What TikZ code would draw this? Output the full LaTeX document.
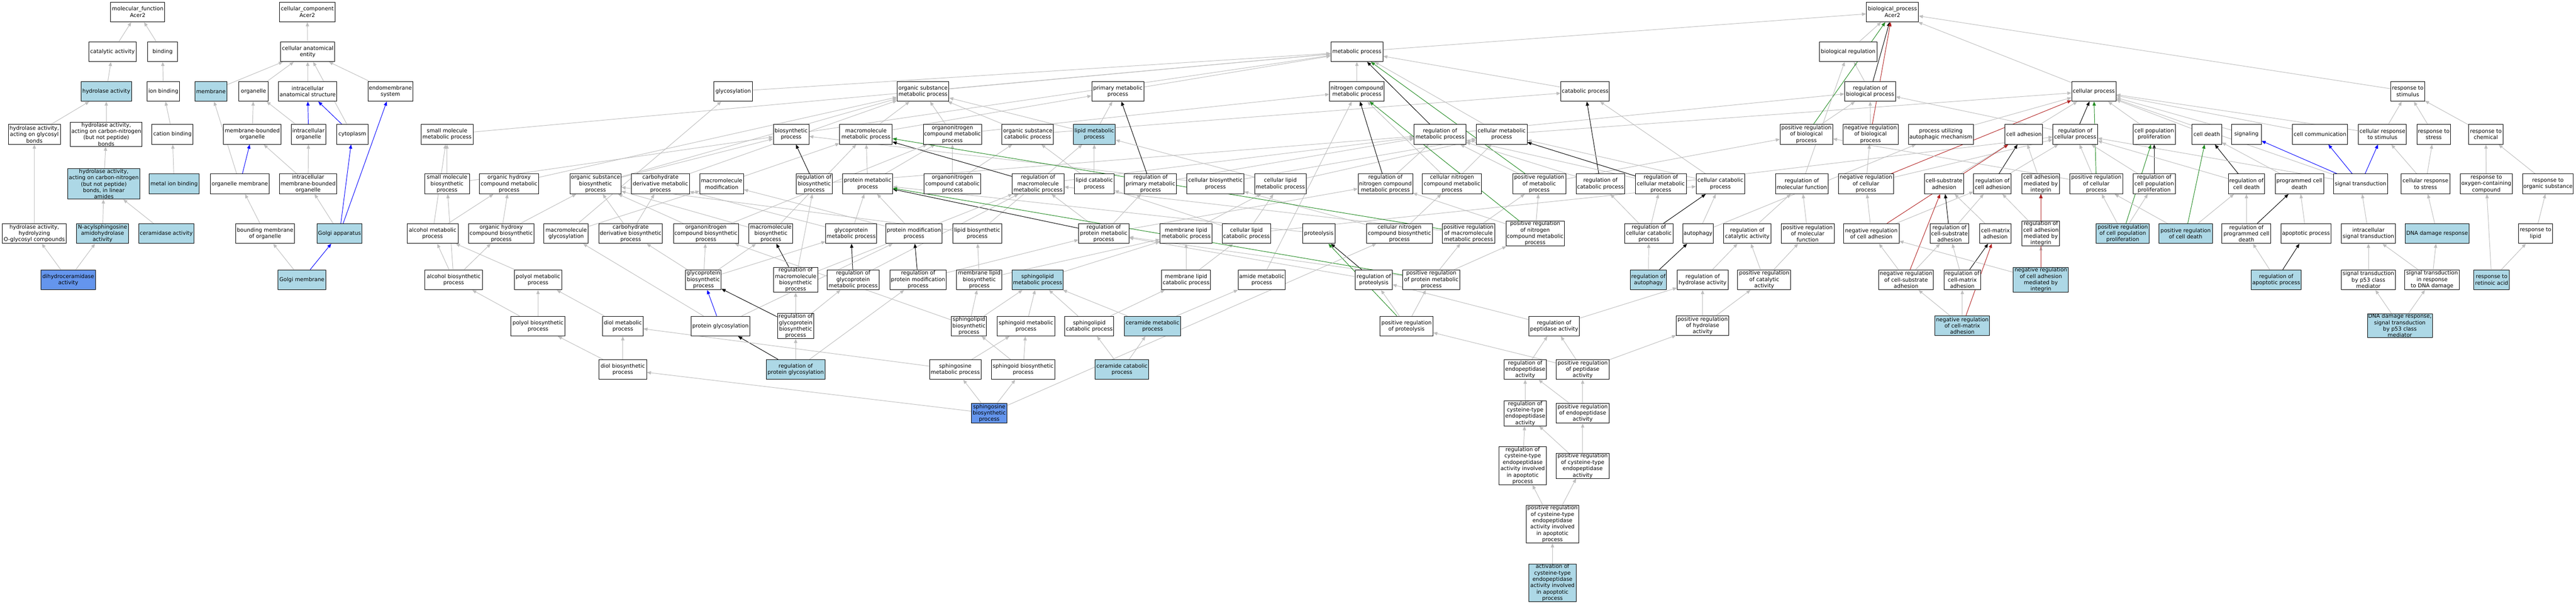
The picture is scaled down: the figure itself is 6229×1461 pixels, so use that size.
\documentclass[tikz,border=0pt]{standalone}
\usepackage{fontspec}
\setmainfont{DejaVu Sans}
\usetikzlibrary{arrows.meta}
\definecolor{edgegray}{HTML}{BEBEBE}
\definecolor{lbfill}{HTML}{ADD8E6}
\definecolor{cbfill}{HTML}{6495ED}
\definecolor{fgreen}{HTML}{228B22}
\definecolor{fbrick}{HTML}{B22222}
\pgfdeclarelayer{paper}
\pgfdeclarelayer{bg}
\pgfsetlayers{paper,bg,main}
\tikzset{
  gnode/.style={draw=black, line width=1.2pt, fill=white, inner xsep=2pt, inner ysep=1pt,
    minimum height=48pt, align=center, font=\fontsize{13}{15.4}\selectfont},
  lb/.style={fill=lbfill},
  cb/.style={fill=cbfill},
  ebase/.style={line width=1.2pt, -{Triangle[length=10pt,width=8pt]}},
  ei/.style={ebase, draw=edgegray},
  ep/.style={ebase, draw=blue},
  er/.style={ebase, draw=black},
  eg/.style={ebase, draw=fgreen},
  en/.style={ebase, draw=fbrick}
}
\newcommand{\gonode}[6][]{\node[gnode,minimum width=#5pt,#1] (#2) at (#3,#4) {#6};}
\newcommand{\gedge}[3][ei]{\draw[#1] (#2) -- (#3);}
\begin{document}
\begin{tikzpicture}[x=1pt,y=-1pt]
\begin{pgfonlayer}{paper}
\fill[white] (0,0) rectangle (6229,1461);
\end{pgfonlayer}
\useasboundingbox (0,0) rectangle (6229,1461);
% ---------------- molecular function ----------------
\gonode{mf}{333}{29}{131}{molecular\_function\\Acer2}
\gonode{cat}{272}{125}{115}{catalytic activity}
\gonode{bind}{393}{125}{72}{binding}
\gonode[lb]{hyd}{257}{221}{122}{hydrolase activity}
\gonode{ionb}{395}{221}{79}{ion binding}
\gonode{hydgly}{83}{325}{126}{hydrolase activity,\\acting on glycosyl\\bonds}
\gonode{hydcn}{257}{325}{173}{hydrolase activity,\\acting on carbon-nitrogen\\(but not peptide)\\bonds}
\gonode{catb}{417}{325}{100}{cation binding}
\gonode[lb]{hydla}{251}{445}{174}{hydrolase activity,\\acting on carbon-nitrogen\\(but not peptide)\\bonds, in linear\\amides}
\gonode[lb]{metb}{421}{445}{120}{metal ion binding}
\gonode{hydog}{83}{565}{155}{hydrolase activity,\\hydrolyzing\\O-glycosyl compounds}
\gonode[lb]{nacyl}{248}{565}{125}{N-acylsphingosine\\amidohydrolase\\activity}
\gonode[lb]{cerase}{402}{565}{133}{ceramidase activity}
\gonode[cb]{dihy}{165}{677}{131}{dihydroceramidase\\activity}
% ---------------- cellular component ----------------
\gonode{cc}{743}{29}{134}{cellular\_component\\Acer2}
\gonode{cae}{744}{125}{131}{cellular anatomical\\entity}
\gonode[lb]{memb}{510}{221}{77}{membrane}
\gonode{org}{613}{221}{72}{organelle}
\gonode{ias}{744}{221}{141}{intracellular\\anatomical structure}
\gonode{endo}{944}{221}{109}{endomembrane\\system}
\gonode{mbo}{610}{325}{139}{membrane-bounded\\organelle}
\gonode{io}{746}{325}{83}{intracellular\\organelle}
\gonode{cyto}{852}{325}{75}{cytoplasm}
\gonode{orgm}{580}{445}{142}{organelle membrane}
\gonode{imbo}{745}{445}{138}{intracellular\\membrane-bounded\\organelle}
\gonode{bmo}{641}{565}{142}{bounding membrane\\of organelle}
\gonode[lb]{golgi}{821}{565}{108}{Golgi apparatus}
\gonode[lb]{golgim}{730}{677}{115}{Golgi membrane}
% ---------------- biological process ----------------
\gonode{bp}{4576}{29}{126}{biological\_process\\Acer2}
\gonode{mp}{3281}{125}{126}{metabolic process}
\gonode{breg}{4469}{125}{140}{biological regulation}
% row 221
\gonode{glyc}{1773}{221}{94}{glycosylation}
\gonode{osmp}{2232}{221}{125}{organic substance\\metabolic process}
\gonode{pmp}{2703}{221}{126}{primary metabolic\\process}
\gonode{ncmp}{3281}{221}{132}{nitrogen compound\\metabolic process}
\gonode{catp}{3833}{221}{117}{catabolic process}
\gonode{rbp}{4522}{221}{123}{regulation of\\biological process}
\gonode{cellp}{5063}{221}{107}{cellular process}
\gonode{rstim}{5822}{221}{82}{response to\\stimulus}
% row 325
\gonode{smmp}{1081}{325}{126}{small molecule\\metabolic process}
\gonode{biosyn}{1913}{325}{86}{biosynthetic\\process}
\gonode{mmp}{2094}{325}{127}{macromolecule\\metabolic process}
\gonode{oncmp}{2303}{325}{141}{organonitrogen\\compound metabolic\\process}
\gonode{oscat}{2485}{325}{124}{organic substance\\catabolic process}
\gonode[lb]{lmp}{2646}{325}{102}{lipid metabolic\\process}
\gonode{rmp}{3482}{325}{125}{regulation of\\metabolic process}
\gonode{cmp}{3631}{325}{123}{cellular metabolic\\process}
\gonode{prbp}{4368}{325}{127}{positive regulation\\of biological\\process}
\gonode{nrbp}{4523}{325}{133}{negative regulation\\of biological\\process}
\gonode{puam}{4693}{325}{157}{process utilizing\\autophagic mechanism}
\gonode{cadh}{4894}{325}{91}{cell adhesion}
\gonode{rcp}{5018}{325}{108}{regulation of\\cellular process}
\gonode{cpp}{5209}{325}{102}{cell population\\proliferation}
\gonode{cdeath}{5336}{325}{72}{cell death}
\gonode{signaling}{5432}{325}{72}{signaling}
\gonode{ccomm}{5610}{325}{133}{cell communication}
\gonode{crstim}{5761}{325}{116}{cellular response\\to stimulus}
\gonode{rstress}{5885}{325}{82}{response to\\stress}
\gonode{rchem}{6011}{325}{83}{response to\\chemical}
% row 445
\gonode{smbp}{1081}{445}{108}{small molecule\\biosynthetic\\process}
\gonode{ohcmp}{1231}{445}{143}{organic hydroxy\\compound metabolic\\process}
\gonode{osbp}{1440}{445}{124}{organic substance\\biosynthetic\\process}
\gonode{cdmp}{1597}{445}{140}{carbohydrate\\derivative metabolic\\process}
\gonode{mmod}{1745}{445}{106}{macromolecule\\modification}
\gonode{rbiosyn}{1969}{445}{88}{regulation of\\biosynthetic\\process}
\gonode{protmp}{2098}{445}{121}{protein metabolic\\process}
\gonode{onccat}{2303}{445}{137}{organonitrogen\\compound catabolic\\process}
\gonode{rmmp}{2510}{445}{126}{regulation of\\macromolecule\\metabolic process}
\gonode{lcat}{2646}{445}{97}{lipid catabolic\\process}
\gonode{rpmp}{2782}{445}{126}{regulation of\\primary metabolic\\process}
\gonode{cbp}{2939}{445}{138}{cellular biosynthetic\\process}
\gonode{clmp}{3096}{445}{125}{cellular lipid\\metabolic process}
\gonode{rncmp}{3350}{445}{132}{regulation of\\nitrogen compound\\metabolic process}
\gonode{cncmp}{3511}{445}{143}{cellular nitrogen\\compound metabolic\\process}
\gonode{prmp}{3722}{445}{128}{positive regulation\\of metabolic\\process}
\gonode{rcat}{3870}{445}{117}{regulation of\\catabolic process}
\gonode{rcmp}{4016}{445}{123}{regulation of\\cellular metabolic\\process}
\gonode{ccat}{4160}{445}{117}{cellular catabolic\\process}
\gonode{rmf}{4357}{445}{128}{regulation of\\molecular function}
\gonode{nrcp}{4512}{445}{133}{negative regulation\\of cellular\\process}
\gonode{csadh}{4701}{445}{94}{cell-substrate\\adhesion}
\gonode{rcadh}{4818}{445}{91}{regulation of\\cell adhesion}
\gonode{cami}{4935}{445}{91}{cell adhesion\\mediated by\\integrin}
\gonode{prcp}{5069}{445}{128}{positive regulation\\of cellular\\process}
\gonode{rcpp}{5209}{445}{102}{regulation of\\cell population\\proliferation}
\gonode{rcd}{5432}{445}{88}{regulation of\\cell death}
\gonode{pcd}{5560}{445}{117}{programmed cell\\death}
\gonode{sigt}{5708}{445}{130}{signal transduction}
\gonode{crstress}{5865}{445}{118}{cellular response\\to stress}
\gonode{roxy}{6012}{445}{126}{response to\\oxygen-containing\\compound}
\gonode{rorg}{6161}{445}{122}{response to\\organic substance}
% row 565
\gonode{amp}{1046}{565}{123}{alcohol metabolic\\process}
\gonode{ohcbp}{1212}{565}{158}{organic hydroxy\\compound biosynthetic\\process}
\gonode{mglyc}{1369}{565}{107}{macromolecule\\glycosylation}
\gonode{cdbp}{1525}{565}{154}{carbohydrate\\derivative biosynthetic\\process}
\gonode{oncbp}{1707}{565}{157}{organonitrogen\\compound biosynthetic\\process}
\gonode{mbp}{1864}{565}{106}{macromolecule\\biosynthetic\\process}
\gonode{gpmp}{2058}{565}{117}{glycoprotein\\metabolic process}
\gonode{pmod}{2210}{565}{137}{protein modification\\process}
\gonode{lbp}{2363}{565}{118}{lipid biosynthetic\\process}
\gonode{rprotmp}{2669}{565}{121}{regulation of\\protein metabolic\\process}
\gonode{mlmp}{2868}{565}{126}{membrane lipid\\metabolic process}
\gonode{clcat}{3014}{565}{118}{cellular lipid\\catabolic process}
\gonode{proteol}{3189}{565}{78}{proteolysis}
\gonode{cncbp}{3384}{565}{159}{cellular nitrogen\\compound biosynthetic\\process}
\gonode{prmmp}{3551}{565}{127}{positive regulation\\of macromolecule\\metabolic process}
\gonode{prncmp}{3712}{565}{141}{positive regulation\\of nitrogen\\compound metabolic\\process}
\gonode{rccat}{3987}{565}{117}{regulation of\\cellular catabolic\\process}
\gonode{autoph}{4106}{565}{74}{autophagy}
\gonode{rcatact}{4225}{565}{115}{regulation of\\catalytic activity}
\gonode{prmf}{4371}{565}{128}{positive regulation\\of molecular\\function}
\gonode{nrcadh}{4525}{565}{134}{negative regulation\\of cell adhesion}
\gonode{rcsadh}{4714}{565}{94}{regulation of\\cell-substrate\\adhesion}
\gonode{cmadh}{4825}{565}{77}{cell-matrix\\adhesion}
\gonode{rcami}{4935}{565}{91}{regulation of\\cell adhesion\\mediated by\\integrin}
\gonode[lb]{prcpp}{5133}{565}{128}{positive regulation\\of cell population\\proliferation}
\gonode[lb]{prcd}{5285}{565}{129}{positive regulation\\of cell death}
\gonode{rpcd}{5432}{565}{118}{regulation of\\programmed cell\\death}
\gonode{apop}{5576}{565}{120}{apoptotic process}
\gonode{ist}{5727}{565}{131}{intracellular\\signal transduction}
\gonode[lb]{ddr}{5893}{565}{155}{DNA damage response}
\gonode{rlipid}{6131}{565}{83}{response to\\lipid}
% row 677
\gonode{abp}{1097}{677}{140}{alcohol biosynthetic\\process}
\gonode{polmp}{1301}{677}{114}{polyol metabolic\\process}
\gonode{gpbp}{1701}{677}{86}{glycoprotein\\biosynthetic\\process}
\gonode{rmbp}{1924}{677}{107}{regulation of\\macromolecule\\biosynthetic\\process}
\gonode{rgpmp}{2063}{677}{125}{regulation of\\glycoprotein\\metabolic process}
\gonode{rpmod}{2220}{677}{136}{regulation of\\protein modification\\process}
\gonode{mlbp}{2368}{677}{110}{membrane lipid\\biosynthetic\\process}
\gonode[lb]{slmp}{2509}{677}{124}{sphingolipid\\metabolic process}
\gonode{mlcat}{2868}{677}{118}{membrane lipid\\catabolic process}
\gonode{amide}{3051}{677}{114}{amide metabolic\\process}
\gonode{rproteol}{3322}{677}{89}{regulation of\\proteolysis}
\gonode{prprotmp}{3461}{677}{138}{positive regulation\\of protein metabolic\\process}
\gonode[lb]{raut}{3986}{677}{88}{regulation of\\autophagy}
\gonode{rhyd}{4117}{677}{123}{regulation of\\hydrolase activity}
\gonode{prcatact}{4266}{677}{128}{positive regulation\\of catalytic\\activity}
\gonode{nrcsadh}{4609}{677}{132}{negative regulation\\of cell-substrate\\adhesion}
\gonode{rcmadh}{4745}{677}{88}{regulation of\\cell-matrix\\adhesion}
\gonode[lb]{nrcami}{4935}{677}{133}{negative regulation\\of cell adhesion\\mediated by\\integrin}
\gonode[lb]{rap}{5504}{677}{121}{regulation of\\apoptotic process}
\gonode{stp53}{5727}{677}{131}{signal transduction\\by p53 class\\mediator}
\gonode{stdna}{5881}{677}{132}{signal transduction\\in response\\to DNA damage}
\gonode[lb]{rra}{6025}{677}{86}{response to\\retinoic acid}
% row 789
\gonode{polbp}{1301}{789}{131}{polyol biosynthetic\\process}
\gonode{diolmp}{1506}{789}{98}{diol metabolic\\process}
\gonode{pglyc}{1742}{789}{142}{protein glycosylation}
\gonode{rgpbp}{1924}{789}{88}{regulation of\\glycoprotein\\biosynthetic\\process}
\gonode{slbp}{2343}{789}{85}{sphingolipid\\biosynthetic\\process}
\gonode{sdmp}{2481}{789}{139}{sphingoid metabolic\\process}
\gonode{slcat}{2634}{789}{118}{sphingolipid\\catabolic process}
\gonode[lb]{cermp}{2787}{789}{136}{ceramide metabolic\\process}
\gonode{prproteol}{3401}{789}{128}{positive regulation\\of proteolysis}
\gonode{rpept}{3758}{789}{123}{regulation of\\peptidase activity}
\gonode{prhyd}{4117}{788}{127}{positive regulation\\of hydrolase\\activity}
\gonode[lb]{nrcmadh}{4745}{788}{132}{negative regulation\\of cell-matrix\\adhesion}
\gonode[lb]{ddrp53}{5803}{788}{157}{DNA damage response,\\signal transduction\\by p53 class\\mediator}
% row 894
\gonode{diolbp}{1506}{894}{115}{diol biosynthetic\\process}
\gonode[lb]{rpglyc}{1924}{894}{141}{regulation of\\protein glycosylation}
\gonode{sgmp}{2310}{894}{125}{sphingosine\\metabolic process}
\gonode{sdbp}{2474}{894}{153}{sphingoid biosynthetic\\process}
\gonode[lb]{cercat}{2713}{894}{130}{ceramide catabolic\\process}
\gonode{rendo}{3688}{894}{102}{regulation of\\endopeptidase\\activity}
\gonode{prpept}{3827}{894}{128}{positive regulation\\of peptidase\\activity}
% row 1000
\gonode[cb]{sgbp}{2392}{1000}{86}{sphingosine\\biosynthetic\\process}
\gonode{rcys}{3688}{1000}{102}{regulation of\\cysteine-type\\endopeptidase\\activity}
\gonode{prendo}{3827}{1000}{128}{positive regulation\\of endopeptidase\\activity}
% rows below
\gonode{rcysap}{3682}{1127}{114}{regulation of\\cysteine-type\\endopeptidase\\activity involved\\in apoptotic\\process}
\gonode{prcys}{3827}{1127}{128}{positive regulation\\of cysteine-type\\endopeptidase\\activity}
\gonode{prcysap}{3754}{1268}{128}{positive regulation\\of cysteine-type\\endopeptidase\\activity involved\\in apoptotic\\process}
\gonode[lb]{actcys}{3754}{1410}{115}{activation of\\cysteine-type\\endopeptidase\\activity involved\\in apoptotic\\process}
% ================= edges =================
\begin{pgfonlayer}{bg}
% MF
\gedge{cat}{mf}\gedge{bind}{mf}\gedge{hyd}{cat}\gedge{ionb}{bind}
\gedge{hydgly}{hyd}\gedge{hydcn}{hyd}\gedge{catb}{ionb}\gedge{hydla}{hydcn}
\gedge{metb}{catb}\gedge{hydog}{hydgly}\gedge{nacyl}{hydla}\gedge{cerase}{hydla}
\gedge{dihy}{hydog}\gedge{dihy}{nacyl}
% CC
\gedge{cae}{cc}\gedge{memb}{cae}\gedge{org}{cae}\gedge{ias}{cae}\gedge{endo}{cae}
\gedge{cyto}{cae}\gedge[ep]{cyto}{ias}\gedge{mbo}{org}\gedge{io}{org}\gedge[ep]{io}{ias}
\gedge{orgm}{memb}\gedge[ep]{orgm}{mbo}\gedge{imbo}{mbo}\gedge{imbo}{io}
\gedge{bmo}{orgm}\gedge{golgi}{imbo}\gedge[ep]{golgi}{cyto}\gedge[ep]{golgi}{endo}
\gedge{golgim}{bmo}\gedge[ep]{golgim}{golgi}
% BP top
\gedge{mp}{bp}\gedge{breg}{bp}\gedge{cellp}{bp}\gedge{rstim}{bp}
\gedge{glyc}{mp}\gedge{osmp}{mp}\gedge{pmp}{mp}\gedge{ncmp}{mp}\gedge{catp}{mp}
\gedge{smmp}{mp}\gedge{biosyn}{mp}
\gedge{rbp}{breg}\gedge[er]{rbp}{bp}
% row 325
\gedge{mmp}{osmp}\gedge{mmp}{pmp}\gedge{oncmp}{osmp}\gedge{oncmp}{ncmp}
\gedge{oscat}{osmp}\gedge{oscat}{catp}\gedge{lmp}{pmp}\gedge{lmp}{osmp}
\gedge{rmp}{rbp}\gedge[er]{rmp}{mp}\gedge{cmp}{cellp}\gedge{cmp}{mp}
\gedge{prbp}{rbp}\gedge[eg]{prbp}{bp}\gedge{nrbp}{rbp}\gedge[en]{nrbp}{bp}
\gedge{puam}{cellp}\gedge{cadh}{cellp}\gedge{rcp}{rbp}\gedge[er]{rcp}{cellp}
\gedge{cpp}{cellp}\gedge{cdeath}{cellp}\gedge{signaling}{cellp}\gedge{ccomm}{cellp}
\gedge{crstim}{cellp}\gedge{crstim}{rstim}\gedge{rstress}{rstim}\gedge{rchem}{rstim}
% row 445
\gedge{smbp}{smmp}\gedge{smbp}{biosyn}\gedge{ohcmp}{osmp}\gedge{osbp}{osmp}\gedge{osbp}{biosyn}
\gedge{cdmp}{osmp}\gedge{mmod}{mmp}\gedge[er]{rbiosyn}{biosyn}\gedge{rbiosyn}{rmp}
\gedge{protmp}{mmp}\gedge{protmp}{oncmp}\gedge{onccat}{oncmp}\gedge{onccat}{oscat}
\gedge{rmmp}{rmp}\gedge[er]{rmmp}{mmp}\gedge{lcat}{lmp}\gedge{lcat}{oscat}
\gedge{rpmp}{rmp}\gedge[er]{rpmp}{pmp}\gedge{cbp}{biosyn}\gedge{cbp}{cmp}
\gedge{clmp}{lmp}\gedge{clmp}{cmp}\gedge{rncmp}{rmp}\gedge[er]{rncmp}{ncmp}
\gedge{cncmp}{ncmp}\gedge{cncmp}{cmp}\gedge{prmp}{rmp}\gedge[eg]{prmp}{mp}\gedge{prmp}{prbp}
\gedge{rcat}{rmp}\gedge[er]{rcat}{catp}\gedge{rcmp}{rmp}\gedge[er]{rcmp}{cmp}\gedge{rcmp}{rcp}
\gedge{ccat}{catp}\gedge{ccat}{cmp}
\gedge{rmf}{breg}\gedge{nrcp}{nrbp}\gedge{nrcp}{rcp}\gedge[en]{nrcp}{cellp}
\gedge{csadh}{cadh}\gedge{rcadh}{rcp}\gedge[er]{rcadh}{cadh}\gedge{cami}{cadh}
\gedge{prcp}{rcp}\gedge[eg]{prcp}{cellp}\gedge{prcp}{prbp}
\gedge{rcpp}{rcp}\gedge[er]{rcpp}{cpp}\gedge{rcd}{rcp}\gedge[er]{rcd}{cdeath}\gedge{pcd}{cdeath}
\gedge[ep]{sigt}{signaling}\gedge[ep]{sigt}{ccomm}\gedge[ep]{sigt}{crstim}\gedge{sigt}{cellp}\gedge{sigt}{rcp}
\gedge{crstress}{crstim}\gedge{crstress}{rstress}\gedge{roxy}{rchem}\gedge{rorg}{rchem}
% row 565
\gedge{amp}{ohcmp}\gedge{amp}{smmp}\gedge{ohcbp}{ohcmp}\gedge{ohcbp}{osbp}
\gedge{mglyc}{glyc}\gedge{mglyc}{mmod}\gedge{cdbp}{cdmp}\gedge{cdbp}{osbp}
\gedge{oncbp}{osbp}\gedge{oncbp}{oncmp}\gedge{mbp}{mmp}\gedge{mbp}{osbp}
\gedge{gpmp}{cdmp}\gedge{gpmp}{protmp}\gedge{pmod}{protmp}\gedge{pmod}{mmod}
\gedge{lbp}{lmp}\gedge{lbp}{osbp}
\gedge{rprotmp}{rmmp}\gedge{rprotmp}{rpmp}\gedge[er]{rprotmp}{protmp}\gedge{rprotmp}{rncmp}
\gedge{mlmp}{clmp}\gedge{clcat}{clmp}\gedge{clcat}{lcat}\gedge{clcat}{ccat}
\gedge{proteol}{protmp}\gedge{cncbp}{cncmp}\gedge{cncbp}{cbp}
\gedge{prmmp}{rmmp}\gedge[eg]{prmmp}{mmp}\gedge{prmmp}{prmp}
\gedge{prncmp}{rncmp}\gedge[eg]{prncmp}{ncmp}\gedge{prncmp}{prmp}
\gedge{rccat}{rcat}\gedge{rccat}{rcmp}\gedge[er]{rccat}{ccat}
\gedge{autoph}{ccat}\gedge{autoph}{puam}
\gedge{rcatact}{rmf}\gedge{prmf}{rmf}
\gedge{nrcadh}{rcadh}\gedge{nrcadh}{nrcp}\gedge[en]{nrcadh}{cadh}
\gedge{rcsadh}{rcadh}\gedge[er]{rcsadh}{csadh}\gedge{cmadh}{csadh}
\gedge{rcami}{rcadh}\gedge[er]{rcami}{cami}
\gedge{prcpp}{rcpp}\gedge{prcpp}{prcp}\gedge[eg]{prcpp}{cpp}
\gedge{prcd}{rcd}\gedge[eg]{prcd}{cdeath}\gedge{prcd}{prcp}
\gedge{rpcd}{rcd}\gedge[er]{rpcd}{pcd}\gedge{apop}{pcd}\gedge{ist}{sigt}
\gedge{ddr}{crstress}\gedge{rlipid}{rorg}
% row 677
\gedge{abp}{amp}\gedge{abp}{ohcbp}\gedge{abp}{smbp}\gedge{polmp}{amp}
\gedge{gpbp}{oncbp}\gedge{gpbp}{mbp}\gedge{gpbp}{cdbp}\gedge{gpbp}{gpmp}
\gedge{rmbp}{rbiosyn}\gedge[er]{rmbp}{mbp}\gedge{rmbp}{rmmp}
\gedge[er]{rgpmp}{gpmp}\gedge{rgpmp}{rmmp}
\gedge{rpmod}{rprotmp}\gedge[er]{rpmod}{pmod}
\gedge{mlbp}{mlmp}\gedge{mlbp}{lbp}\gedge{slmp}{mlmp}
\gedge{mlcat}{mlmp}\gedge{mlcat}{clcat}\gedge{amide}{ncmp}
\gedge{rproteol}{rprotmp}\gedge[er]{rproteol}{proteol}
\gedge{prprotmp}{rprotmp}\gedge{prprotmp}{prmmp}\gedge{prprotmp}{prncmp}\gedge[eg]{prprotmp}{protmp}
\gedge{raut}{rccat}\gedge[er]{raut}{autoph}
\gedge{rhyd}{rcatact}\gedge{prcatact}{rcatact}\gedge{prcatact}{prmf}
\gedge{nrcsadh}{nrcadh}\gedge[en]{nrcsadh}{csadh}\gedge{nrcsadh}{rcsadh}
\gedge{rcmadh}{rcsadh}\gedge[er]{rcmadh}{cmadh}
\gedge{nrcami}{rcami}\gedge[en]{nrcami}{cami}\gedge{nrcami}{nrcadh}
\gedge{rap}{rpcd}\gedge[er]{rap}{apop}
\gedge{stp53}{ist}\gedge{stdna}{ist}\gedge{stdna}{ddr}
\gedge{rra}{roxy}\gedge{rra}{rlipid}
% row 789
\gedge{polbp}{polmp}\gedge{polbp}{abp}\gedge{diolmp}{polmp}
\gedge{pglyc}{mglyc}\gedge[ep]{pglyc}{gpbp}\gedge{pglyc}{pmod}
\gedge{rgpbp}{rgpmp}\gedge{rgpbp}{rmbp}\gedge[er]{rgpbp}{gpbp}
\gedge{slbp}{slmp}\gedge{slbp}{mlbp}\gedge{slbp}{oncbp}
\gedge{sdmp}{slmp}\gedge{slcat}{slmp}\gedge{slcat}{mlcat}
\gedge{cermp}{slmp}\gedge{cermp}{amide}
\gedge{prproteol}{rproteol}\gedge{prproteol}{prprotmp}\gedge[eg]{prproteol}{proteol}
\gedge{rpept}{rproteol}\gedge{rpept}{rhyd}
\gedge{prhyd}{rhyd}\gedge{prhyd}{prcatact}
\gedge{nrcmadh}{nrcsadh}\gedge{nrcmadh}{rcmadh}\gedge[en]{nrcmadh}{cmadh}
\gedge{ddrp53}{stp53}\gedge{ddrp53}{stdna}
% row 894
\gedge{diolbp}{diolmp}\gedge{diolbp}{polbp}
\gedge{rpglyc}{rgpbp}\gedge[er]{rpglyc}{pglyc}\gedge{rpglyc}{rpmod}
\gedge{sgmp}{sdmp}\gedge{sgmp}{diolmp}\gedge{sdbp}{sdmp}\gedge{sdbp}{slbp}
\gedge{cercat}{slcat}\gedge{cercat}{cermp}
\gedge{rendo}{rpept}\gedge{prpept}{rpept}\gedge{prpept}{prproteol}\gedge{prpept}{prhyd}
% deeper
\gedge{sgbp}{sgmp}\gedge{sgbp}{sdbp}\gedge{sgbp}{diolbp}\gedge{sgbp}{cncbp}
\gedge{rcys}{rendo}\gedge{prendo}{rendo}\gedge{prendo}{prpept}
\gedge{rcysap}{rcys}\gedge{prcys}{rcys}\gedge{prcys}{prendo}
\gedge{prcysap}{rcysap}\gedge{prcysap}{prcys}
\gedge{actcys}{prcysap}
\end{pgfonlayer}
\end{tikzpicture}
\end{document}
